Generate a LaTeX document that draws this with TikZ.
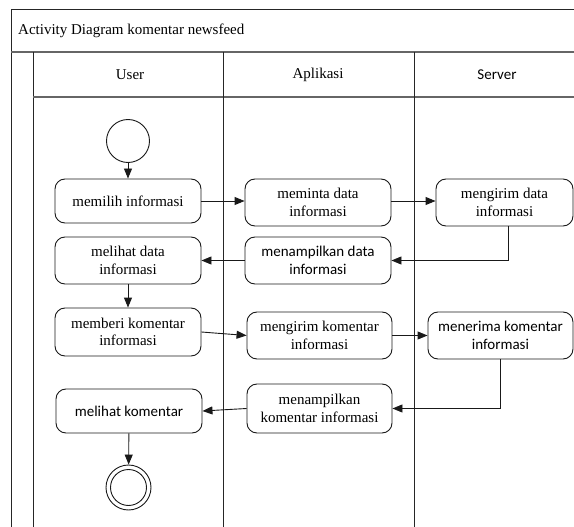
\documentclass[tikz,border=0pt]{standalone}
\usepackage{fontspec}
\setmainfont{Liberation Serif}
\newfontfamily\calibrifont{Carlito}
\usetikzlibrary{arrows.meta}
\begin{document}
\begin{tikzpicture}[x=1pt,y=-1pt,
  lane/.style={draw=black!85,line width=0.9pt},
  sep/.style={draw=black!60,line width=1.4pt},
  act/.style={draw=black!90,line width=0.9pt,rounded corners=10pt,align=center,
    inner sep=0pt,font=\fontsize{15}{17.5}\selectfont},
  actsans/.style={act,font=\calibrifont\fontsize{15}{17.5}\selectfont},
  lbl/.style={inner sep=0pt,font=\fontsize{15}{17.5}\selectfont},
  lblsans/.style={inner sep=0pt,font=\calibrifont\fontsize{15}{17.5}\selectfont},
  flow/.style={draw=black!90,line width=0.9pt,-{Triangle[length=10pt,width=8pt]}},
  startnode/.style={circle,draw=black!90,line width=0.9pt,minimum size=43pt,inner sep=0pt},
  endouter/.style={circle,draw=black!90,line width=0.9pt,minimum size=45pt,inner sep=0pt},
  endinner/.style={circle,draw=black!90,line width=0.9pt,minimum size=36pt,inner sep=0pt}]
\useasboundingbox (0,0) rectangle (574,527);

% frame and swimlanes
\draw[lane] (574,9) -- (11,9) -- (11,527);
\draw[sep] (11,52) -- (574,52);
\draw[lane] (33,52) -- (33,527);
\draw[sep] (33,97) -- (574,97);
\draw[lane] (223,52) -- (223,527);
\draw[lane] (414,52) -- (414,527);

\node[lbl,anchor=west] (title) at (18,31) {Activity Diagram komentar newsfeed};
\node[lbl] (hUser) at (130,75) {User};
\node[lbl] (hApp) at (318,75) {Aplikasi};
\node[lblsans] (hServer) at (497,75) {Server};

% activities
\node[startnode] (start) at (128,141) {};
\node[act,minimum width=146pt,minimum height=44pt] (b1) at (128,201) {memilih informasi};
\node[act,minimum width=146pt,minimum height=47pt] (b2) at (318,202.5) {meminta data\\informasi};
\node[act,minimum width=137pt,minimum height=47pt] (b3) at (504.5,202.5) {mengirim data\\informasi};
\node[actsans,minimum width=146pt,minimum height=47pt] (b4) at (318,260.5) {menampilkan data\\informasi};
\node[act,minimum width=146pt,minimum height=47pt] (b5) at (128,260.5) {melihat data\\informasi};
\node[act,minimum width=146pt,minimum height=48pt] (b6) at (128,332) {memberi komentar\\informasi};
\node[act,minimum width=145pt,minimum height=47pt] (b7) at (319.5,335.5) {mengirim komentar\\informasi};
\node[actsans,minimum width=145pt,minimum height=47pt] (b8) at (500.5,335.5) {menerima komentar\\informasi};
\node[act,minimum width=145pt,minimum height=49pt] (b9) at (319.5,408.5) {menampilkan\\komentar informasi};
\node[actsans,minimum width=146pt,minimum height=44pt] (b10) at (129,411) {melihat komentar};
\node[endouter] (end) at (128.5,487.5) {};
\node[endinner] (endin) at (128.5,487.5) {};

% control flow
\draw[flow] (start) -- (b1);
\draw[flow] (b1.east) -- (b1.east -| b2.west);
\draw[flow] (b2.east |- b1.east) -- (b1.east -| b3.west);
\draw[flow] ([xshift=4pt]b3.south) |- (b4.east);
\draw[flow] (b4.west) -- (b5.east);
\draw[flow] (b5) -- (b6);
\draw[flow] (b6.east) -- (b7.west);
\draw[flow] (b7.east) -- (b8.west);
\draw[flow] (b8.south) |- (b9.east);
\draw[flow] (b9.west) -- (b10.east);
\draw[flow] (b10) -- (end);
\end{tikzpicture}
\end{document}
